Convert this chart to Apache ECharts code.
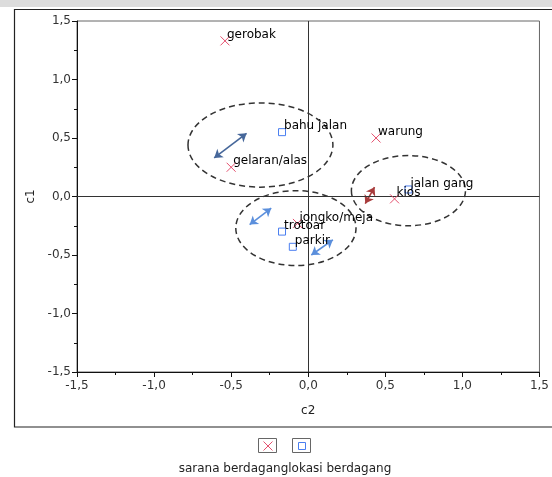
<!DOCTYPE html>
<html>
<head>
<meta charset="utf-8">
<script src="https://cdn.jsdelivr.net/npm/echarts@6/dist/echarts.min.js"></script>
<style>
  html, body { margin: 0; padding: 0; background: #fff; }
  #chart { width: 552px; height: 477px; }
</style>
</head>
<body>
<div id="chart"></div>
<script>
// sarana berdagang (red crosses)
var saranaNames = ['gerobak', 'gelaran/alas', 'warung', 'kios', 'jongko/meja'];
var saranaC2 = [-0.54, -0.50, 0.44, 0.56, -0.07];
var saranaC1 = [1.33, 0.25, 0.50, -0.02, -0.23];

// lokasi berdagang (blue squares)
var lokasiNames = ['bahu jalan', 'jalan gang', 'trotoar', 'parkir'];
var lokasiC2 = [-0.17, 0.65, -0.17, -0.10];
var lokasiC1 = [0.55, 0.06, -0.30, -0.43];

var seriesNames = ['sarana berdagang', 'lokasi berdagang'];
var axisTicks = [-1.5, -1.0, -0.5, 0.0, 0.5, 1.0, 1.5];

// dashed group ellipses: centre c2, centre c1, radius c2, radius c1
var ellipseC2 = [-0.31, -0.08, 0.65];
var ellipseC1 = [0.44, -0.27, 0.05];
var ellipseRx = [0.47, 0.39, 0.37];
var ellipseRy = [0.36, 0.32, 0.30];

// double arrows
var arrowFrom = [[-0.61, 0.33], [-0.38, -0.24], [0.02, -0.50], [0.37, -0.06]];
var arrowTo = [[-0.40, 0.54], [-0.24, -0.10], [0.16, -0.37], [0.43, 0.08]];
var arrowColors = ['#46679a', '#5b8fdc', '#5b8fdc', '#a83c3c'];

var redCol = '#e5506e';
var blueCol = '#4a7ef0';
var crossPath = 'path://M0,0L10,10M10,0L0,10';
var font = 'DejaVu Sans';

function pts(names, xs, ys) {
  return names.map(function (n, i) { return { name: n, value: [xs[i], ys[i]] }; });
}
function fmt(v) { return v.toFixed(1).replace('.', ','); }

var ellipses = ellipseC2.map(function (c, i) { return [c, ellipseC1[i], ellipseRx[i], ellipseRy[i]]; });

var axisCommon = {
  type: 'value', min: axisTicks[0], max: axisTicks[axisTicks.length - 1], interval: 0.5,
  nameLocation: 'middle',
  nameTextStyle: { color: '#222', fontSize: 12, fontFamily: font },
  axisLine: { onZero: false, lineStyle: { color: '#111', width: 1 } },
  axisTick: { show: true, length: 5, lineStyle: { color: '#111' } },
  minorTick: { show: true, splitNumber: 2, length: 3, lineStyle: { color: '#111' } },
  splitLine: { show: false },
  axisLabel: { color: '#333', fontSize: 12, fontFamily: font, formatter: fmt }
};

var chart = echarts.init(document.getElementById('chart'));
chart.setOption({
  animation: false,
  backgroundColor: '#fff',
  grid: { left: 77, top: 21, width: 464, height: 351, show: true, borderColor: '#666', borderWidth: 1 },
  xAxis: Object.assign({}, axisCommon, { name: 'c2', nameGap: 33, axisLabel: Object.assign({}, axisCommon.axisLabel, { margin: 8 }) }),
  yAxis: Object.assign({}, axisCommon, { name: 'c1', nameGap: 40, axisLabel: Object.assign({}, axisCommon.axisLabel, { margin: 6 }) }),
  legend: [
    { data: [{ name: seriesNames[0], icon: crossPath, itemStyle: { color: 'transparent', borderColor: redCol, borderWidth: 1 } }],
      left: 263, top: 441, padding: 0, itemWidth: 9, itemHeight: 9, formatter: function () { return ''; }, selectedMode: false },
    { data: [{ name: seriesNames[1], icon: 'rect', itemStyle: { color: '#fff', borderColor: blueCol, borderWidth: 1 } }],
      left: 298, top: 442, padding: 0, itemWidth: 7, itemHeight: 7, formatter: function () { return ''; }, selectedMode: false }
  ],
  graphic: [
    { type: 'rect', shape: { x: 0, y: 0, width: 552, height: 7 }, style: { fill: '#dcdcdc' }, silent: true },
    { type: 'rect', shape: { x: 14.5, y: 9.5, width: 560, height: 417.5 }, style: { fill: 'none', stroke: '#222', lineWidth: 1.2 }, silent: true, z: -1 },
    { type: 'rect', shape: { x: 258.5, y: 438.5, width: 18, height: 14 }, style: { fill: 'none', stroke: '#666', lineWidth: 1 }, silent: true },
    { type: 'rect', shape: { x: 292.5, y: 438.5, width: 18, height: 14 }, style: { fill: 'none', stroke: '#666', lineWidth: 1 }, silent: true },
    { type: 'text', x: 285, y: 469, style: { text: seriesNames.join(''), fill: '#222', font: '12px "DejaVu Sans"', textAlign: 'center', textVerticalAlign: 'middle' }, silent: true }
  ],
  series: [
    {
      name: 'zero', type: 'scatter', data: [], silent: true,
      markLine: {
        symbol: 'none', silent: true, label: { show: false },
        lineStyle: { color: '#333', width: 1, type: 'solid' },
        data: [{ xAxis: 0 }, { yAxis: 0 }]
      }
    },
    {
      name: 'ellipses', type: 'custom', silent: true, data: ellipses,
      renderItem: function (params, api) {
        var c = api.coord([api.value(0), api.value(1)]);
        var rx = api.size([api.value(2), 0])[0];
        var ry = api.size([0, api.value(3)])[1];
        var d = 'M' + (c[0] - rx) + ',' + c[1] +
          'A' + rx + ',' + ry + ',0,1,0,' + (c[0] + rx) + ',' + c[1] +
          'A' + rx + ',' + ry + ',0,1,0,' + (c[0] - rx) + ',' + c[1] + 'Z';
        return { type: 'path', shape: { pathData: d }, style: { fill: 'none', stroke: '#333', lineWidth: 1.5, lineDash: [6, 4] } };
      },
      encode: { x: 0, y: 1 }
    },
    {
      name: 'arrows', type: 'lines', coordinateSystem: 'cartesian2d', silent: true,
      symbol: ['arrow', 'arrow'], symbolSize: 8,
      data: arrowFrom.map(function (f, i) {
        return { coords: [f, arrowTo[i]], lineStyle: { color: arrowColors[i], width: 1.6, opacity: 1 } };
      })
    },
    {
      name: seriesNames[0], type: 'scatter', symbol: crossPath, symbolSize: 9, z: 5,
      itemStyle: { color: 'transparent', borderColor: redCol, borderWidth: 1, opacity: 1 },
      label: { show: true, position: 'right', distance: 0, offset: [-3, -6], formatter: '{b}', color: '#000', fontSize: 12, fontFamily: font },
      data: pts(saranaNames, saranaC2, saranaC1)
    },
    {
      name: seriesNames[1], type: 'scatter', symbol: 'rect', symbolSize: 7, z: 5,
      itemStyle: { color: '#fff', borderColor: blueCol, borderWidth: 1, opacity: 1 },
      label: { show: true, position: 'right', distance: 0, offset: [-2, -6], formatter: '{b}', color: '#000', fontSize: 12, fontFamily: font },
      data: pts(lokasiNames, lokasiC2, lokasiC1)
    }
  ]
});
</script>
</body>
</html>
